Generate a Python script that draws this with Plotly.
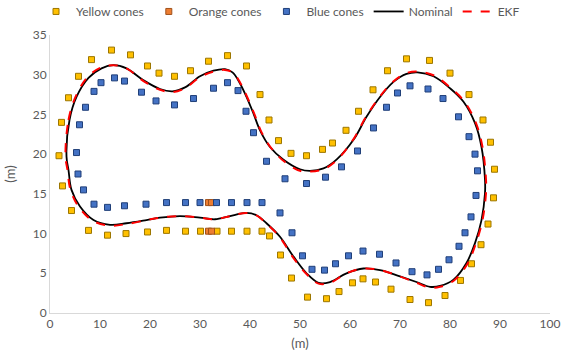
import plotly.graph_objects as go

yellow_x = [1.8, 2.3, 3.7, 5.7, 8.3, 12.3, 16.1, 19.5, 21.8, 24.9, 28.1, 31.7, 35.5, 39.3,
            42.0, 43.8, 45.7, 48.2, 51.3, 54.5, 56.5, 59.2, 61.7, 64.6, 67.5, 71.3, 75.9,
            80.0, 83.8, 86.6, 88.1, 88.9, 88.7, 87.6, 86.2, 84.3, 82.1, 79.0, 75.7, 72.0,
            68.2, 65.1, 62.6, 60.5, 57.8, 55.3, 51.5, 48.3, 46.1, 43.9, 42.4, 39.4, 36.3,
            33.4, 30.1, 27.1, 23.3, 19.5, 15.2, 11.5, 7.7, 4.3, 2.5]
yellow_y = [19.8, 24.0, 27.1, 29.8, 31.9, 33.1, 32.5, 31.1, 30.2, 29.8, 30.5, 31.7, 32.4, 31.1,
            27.5, 24.3, 21.7, 20.1, 19.8, 20.6, 21.4, 23.0, 25.4, 28.1, 30.5, 32.0, 31.8,
            30.2, 27.5, 24.3, 21.5, 18.1, 14.5, 11.2, 8.6, 6.2, 4.1, 2.2, 1.3, 1.7,
            3.0, 3.9, 4.3, 3.8, 2.7, 1.8, 2.0, 4.4, 7.3, 9.7, 10.3, 10.3, 10.3,
            10.3, 10.3, 10.3, 10.4, 10.2, 10.0, 9.8, 10.4, 12.9, 16.0]

orange_x = [31.7, 32.3, 31.7, 32.3]
orange_y = [13.9, 13.9, 10.3, 10.3]

blue_x = [5.3, 5.9, 7.1, 8.8, 10.2, 12.9, 14.9, 18.3, 21.2, 24.9, 28.7, 32.7, 35.5, 37.6,
          39.2, 40.7, 43.3, 47.0, 51.3, 55.1, 58.3, 61.5, 64.7, 67.3, 69.5, 72.0, 75.6,
          78.6, 81.7, 83.8, 85.0, 85.5, 85.2, 84.2, 83.0, 81.8, 79.8, 77.7, 75.4, 72.4,
          69.2, 65.9, 62.6, 59.7, 57.1, 54.9, 52.4, 50.5, 48.4, 46.0, 42.4, 39.4, 36.3,
          33.3, 30.0, 27.1, 23.3, 19.2, 14.9, 11.5, 8.8, 6.7, 5.6]
blue_y = [20.2, 23.7, 25.9, 27.9, 29.0, 29.6, 29.2, 27.8, 26.7, 26.2, 27.0, 28.3, 29.0, 28.0,
          25.4, 22.7, 19.1, 16.9, 16.3, 17.1, 18.4, 20.4, 23.3, 25.9, 27.7, 28.6, 28.2,
          27.0, 24.7, 22.2, 20.0, 17.9, 14.8, 12.1, 10.1, 8.4, 6.7, 5.5, 4.8, 5.2,
          6.3, 7.4, 7.8, 7.2, 6.2, 5.4, 5.5, 7.2, 10.1, 12.6, 13.9, 13.9, 13.9,
          13.9, 13.9, 13.9, 13.9, 13.7, 13.5, 13.3, 13.7, 15.5, 17.5]

nominal_x = [3.3, 3.9, 5.3, 7.7, 10.3, 12.7, 15.3, 18.7, 22.0, 24.5, 27.0, 30.0, 32.7, 35.0,
             36.5, 38.0, 39.3, 40.7, 42.0, 44.0, 46.7, 50.0, 52.0, 54.7, 57.3, 60.7, 63.3,
             66.0, 68.7, 71.3, 73.5, 76.7, 80.0, 82.7, 85.0, 86.3, 87.0, 87.0, 86.3, 85.0,
             83.3, 80.7, 78.0, 76.0, 73.3, 70.0, 66.0, 62.7, 59.3, 56.0, 53.7, 51.3, 48.7,
             46.0, 43.3, 41.3, 39.3, 36.0, 33.0, 30.0, 26.0, 22.0, 19.3, 15.3, 12.0, 8.7,
             6.0, 4.3, 3.7, 3.3]
nominal_y = [19.7, 24.3, 27.2, 29.6, 30.8, 31.2, 30.8, 29.3, 28.2, 27.9, 28.4, 29.8, 30.5, 30.7,
             30.3, 28.9, 27.2, 25.1, 23.0, 20.9, 19.3, 18.1, 17.9, 18.2, 19.3, 21.8, 24.7,
             27.2, 29.1, 30.1, 30.3, 29.8, 28.3, 26.6, 23.9, 20.9, 16.8, 15.1, 11.7, 8.8,
             6.3, 4.2, 3.4, 3.3, 3.9, 4.6, 5.4, 5.6, 5.0, 3.9, 3.8, 5.0, 7.1,
             9.6, 11.3, 12.3, 12.6, 12.2, 11.8, 12.0, 12.2, 12.0, 11.7, 11.3, 11.1, 11.7,
             13.4, 15.5, 18.0, 19.7]

ekf_x = [3.1, 3.7, 5.1, 7.5, 10.2, 12.7, 15.3, 18.7, 22.0, 24.5, 27.0, 30.0, 32.7, 35.0,
         36.7, 38.2, 39.5, 40.9, 42.2, 44.2, 46.8, 50.0, 52.0, 54.7, 57.3, 60.6, 63.2,
         65.9, 68.6, 71.3, 73.5, 76.8, 80.2, 82.9, 85.2, 86.5, 87.2, 87.2, 86.5, 85.2,
         83.5, 80.8, 78.0, 76.0, 73.3, 70.0, 66.0, 62.7, 59.3, 56.0, 53.7, 51.3, 48.6,
         45.9, 43.2, 41.3, 39.3, 36.0, 33.0, 30.0, 26.0, 22.0, 19.3, 15.3, 12.0, 8.6,
         5.8, 4.1, 3.5, 3.1]
ekf_y = [19.7, 24.3, 27.2, 29.7, 30.9, 31.2, 30.8, 29.2, 28.1, 27.8, 28.3, 29.7, 30.4, 30.6,
         30.2, 28.8, 27.1, 25.0, 22.9, 20.8, 19.1, 17.9, 17.8, 18.1, 19.2, 21.8, 24.7,
         27.2, 29.1, 30.2, 30.4, 29.9, 28.3, 26.6, 23.9, 20.9, 16.8, 15.1, 11.7, 8.8,
         6.2, 4.1, 3.3, 3.2, 3.8, 4.6, 5.4, 5.6, 5.0, 3.8, 3.7, 4.9, 7.0,
         9.6, 11.3, 12.3, 12.6, 12.2, 11.8, 12.0, 12.2, 12.0, 11.7, 11.2, 11.0, 11.6,
         13.3, 15.5, 18.0, 19.7]

x_ticks = [0, 10, 20, 30, 40, 50, 60, 70, 80, 90, 100]
y_ticks = [0, 5, 10, 15, 20, 25, 30, 35]

gray = "#595959"
font = dict(family="Lato, 'Open Sans', sans-serif", size=12, color=gray)

fig = go.Figure()

def cones(x, y, name, fill, edge):
    fig.add_trace(go.Scatter(
        x=x, y=y, mode="markers", name=name,
        marker=dict(symbol="square", size=6, color=fill, line=dict(color=edge, width=1)),
    ))

cones(yellow_x, yellow_y, "Yellow cones", "#FFC000", "#9C7600")
cones(orange_x, orange_y, "Orange cones", "#ED7D31", "#A0521C")
cones(blue_x, blue_y, "Blue cones", "#4472C4", "#203F78")

fig.add_trace(go.Scatter(
    x=nominal_x, y=nominal_y, mode="lines", name="Nominal",
    line=dict(color="black", width=1.8, shape="spline", smoothing=1.0),
))
fig.add_trace(go.Scatter(
    x=ekf_x, y=ekf_y, mode="lines", name="EKF",
    line=dict(color="#FF0000", width=2, dash="dash", shape="spline", smoothing=1.0),
))

fig.update_layout(
    width=561, height=358,
    margin=dict(l=50, r=11, t=35, b=45, autoexpand=False),
    paper_bgcolor="white", plot_bgcolor="white",
    font=font,
    showlegend=True,
    legend=dict(orientation="h", x=0.5, xanchor="center", y=0.968, yanchor="middle",
                xref="container", yref="container", font=dict(size=12, color=gray),
                itemwidth=30, tracegroupgap=0, bgcolor="rgba(0,0,0,0)",
                borderwidth=0),
    xaxis=dict(range=[0, 100], tickvals=x_ticks, showgrid=False, zeroline=False,
               showline=True, linecolor="#D9D9D9", linewidth=1, ticks="", automargin=False,
               title=dict(text="(m)", font=dict(size=13, color=gray), standoff=8),
               tickfont=dict(size=12, color=gray)),
    yaxis=dict(range=[0, 35], tickvals=y_ticks, showgrid=False, zeroline=False,
               showline=True, linecolor="#D9D9D9", linewidth=1, ticks="", automargin=False,
               title=dict(text="(m)", font=dict(size=13, color=gray), standoff=14),
               tickfont=dict(size=12, color=gray)),
)

fig.write_html("out.html")
